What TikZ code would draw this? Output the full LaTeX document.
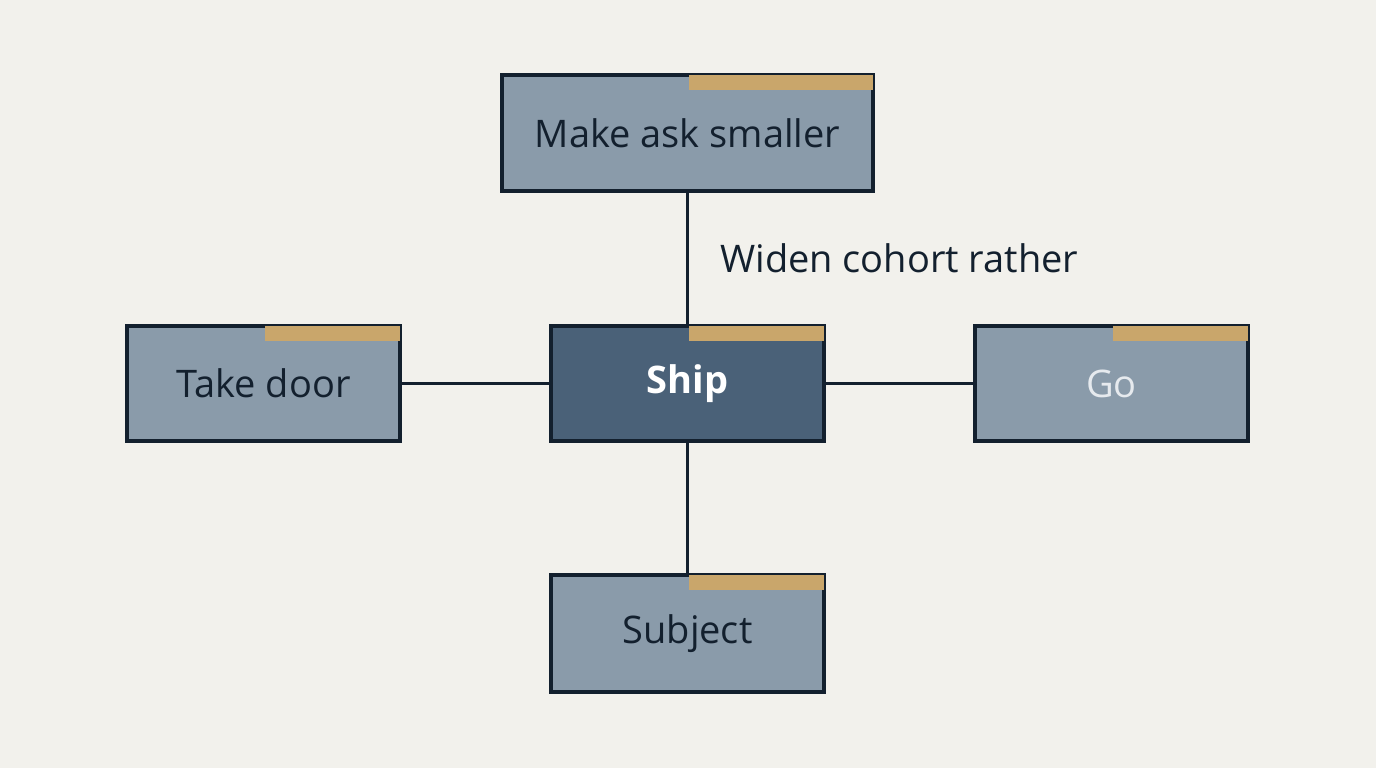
\documentclass[tikz,border=0pt]{standalone}
\usepackage{fontspec}
\setmainfont{Open Sans}
\definecolor{bg}{HTML}{F2F1EC}
\definecolor{boxf}{HTML}{8A9BAA}
\definecolor{shipf}{HTML}{4A6178}
\definecolor{edge}{HTML}{13202E}
\definecolor{gold}{HTML}{C9A66B}
\definecolor{golight}{HTML}{E6EAEE}
\begin{document}
\begin{tikzpicture}[x=1pt,y=-1pt,
  box/.style={draw=edge,line width=3.4pt,fill=boxf,minimum width=273pt,minimum height=115pt,inner sep=0pt,font=\fontsize{38}{42}\selectfont,text=edge},
  conn/.style={draw=edge,line width=3pt}]
\fill[bg] (0,0) rectangle (1376,768);
\useasboundingbox (0,0) rectangle (1376,768);
\newcommand{\goldbar}[1]{\fill[gold] ([xshift=1pt,yshift=-1.7pt]#1.north) rectangle ([xshift=-1.7pt,yshift=-17pt]#1.north east);}
\node[box,minimum width=371pt,minimum height=116pt] (top) at (687.5,133) {Make ask smaller};
\node[box,fill=shipf,text=white,font=\fontsize{38}{42}\selectfont\bfseries] (ship) at (687.5,383.5) {Ship};
\node[box] (take) at (263.5,383.5) {Take door};
\node[box,text=golight] (go) at (1111.5,383.5) {Go};
\node[box,minimum height=117pt] (sub) at (687.5,633.5) {Subject};
\draw[conn] (top) -- (ship);
\draw[conn] (take) -- (ship);
\draw[conn] (ship) -- (go);
\draw[conn] (ship) -- (sub);
\foreach \n in {top,ship,take,go,sub}{\goldbar{\n}}
\node[anchor=west,inner sep=0pt,font=\fontsize{38}{42}\selectfont,text=edge] (lab) at (720,258) {Widen cohort rather};
\end{tikzpicture}
\end{document}
